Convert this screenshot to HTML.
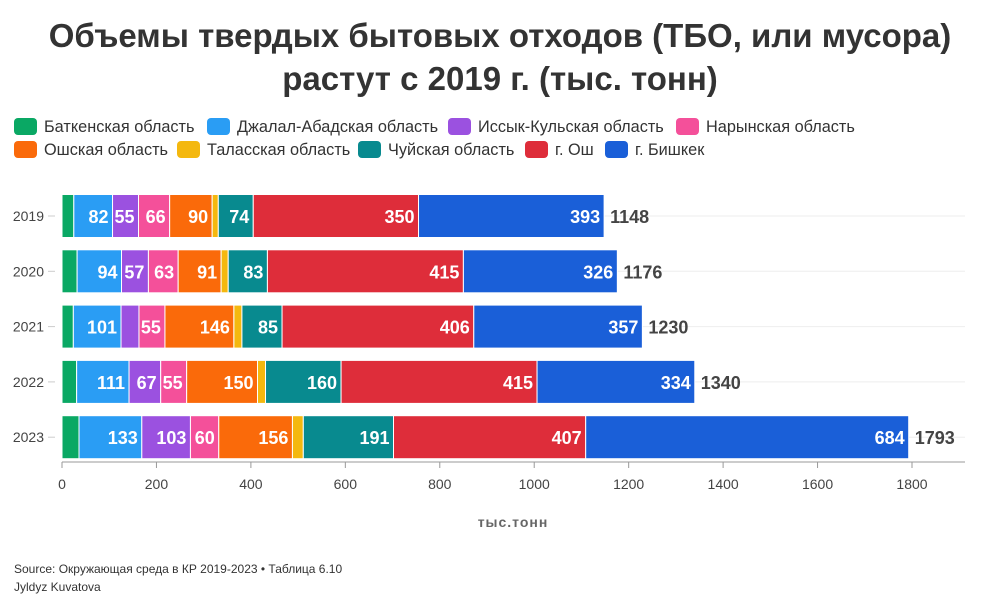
<!DOCTYPE html>
<html><head><meta charset="utf-8"><style>
body{margin:0;background:#fff;font-family:"Liberation Sans",sans-serif;}
#c{position:relative;width:1000px;height:607px;overflow:hidden}
h1{position:absolute;left:0;top:14px;width:1000px;margin:0;text-align:center;font-size:33px;line-height:43px;font-weight:bold;color:#333}
.leg{position:absolute;font-size:16.3px;color:#333;white-space:nowrap}
.leg span.sw{display:inline-block;width:23px;height:17px;border-radius:4px;vertical-align:-3px;margin-right:7px}
.foot{position:absolute;left:14px;font-size:12px;color:#333}
</style></head><body><div id="c">
<h1>Объемы твердых бытовых отходов (ТБО, или мусора)<br>растут с 2019 г. (тыс. тонн)</h1>
<div id="legend"></div>
<svg id="s" width="1000" height="607" style="position:absolute;left:0;top:0"></svg>
<div class="foot" style="top:562px">Source: Окружающая среда в КР 2019-2023 • Таблица 6.10</div>
<div class="foot" style="top:580px">Jyldyz Kuvatova</div>
</div>
<script>
const years=["2019","2020","2021","2022","2023"];
const seriesNames=["Баткенская область","Джалал-Абадская область","Иссык-Кульская область","Нарынская область","Ошская область","Таласская область","Чуйская область","г. Ош","г. Бишкек"];
const batken=[25,32,24,31,36];
const jalal=[82,94,101,111,133];
const issyk=[55,57,38,67,103];
const naryn=[66,63,55,55,60];
const osh=[90,91,146,150,156];
const talas=[13,15,17,17,23];
const chui=[74,83,85,160,191];
const oshCity=[350,415,406,415,407];
const bishkek=[393,326,357,334,684];
const totals=[1148,1176,1230,1340,1793];
const xTicks=[0,200,400,600,800,1000,1200,1400,1600,1800];
const series=[batken,jalal,issyk,naryn,osh,talas,chui,oshCity,bishkek];
const colors=["#0aa864","#2a9df4","#9b51e0","#f4509a","#fa6a0a","#f4b80f","#088a8f","#de2d3a","#1a5fd8"];
const labelMin=[999,60,50,50,60,999,60,60,60];
const x=v=>62+v*850/1800;
const y=i=>216+i*55.3;
const NS="http://www.w3.org/2000/svg";
const svg=document.getElementById('s');
function mk(t,a){const e=document.createElementNS(NS,t);for(const k in a)e.setAttribute(k,a[k]);svg.appendChild(e);return e;}
const lg=document.getElementById('legend');
const lpos=[[14,118],[207,118],[448,118],[676,118],[14,141],[177,141],[358,141],[525,141],[605,141]];
seriesNames.forEach((n,k)=>{const d=document.createElement('div');d.className='leg';d.style.left=lpos[k][0]+'px';d.style.top=lpos[k][1]+'px';d.innerHTML='<span class="sw" style="background:'+colors[k]+'"></span>'+n;


lg.appendChild(d);});
years.forEach((yr,i)=>{
 const g=mk('line',{x1:x(0),x2:965,y1:y(i),y2:y(i),stroke:'#eee','stroke-width':1});
 
 
 const t=mk('text',{x:44,y:y(i)+5,'text-anchor':'end','font-size':14,fill:'#444'});t.textContent=yr;
 
 
 mk('line',{x1:48,x2:55,y1:y(i),y2:y(i),stroke:'#ccc'});
 let acc=0;
 series.forEach((s,k)=>{
  const v=s[i];
  const r=mk('rect',{x:x(acc),y:y(i)-21.5,width:x(acc+v)-x(acc),height:43,fill:colors[k],stroke:'#fff','stroke-width':1});
  
  
  if(v>=labelMin[k]){
   const tl=mk('text',{x:x(acc+v)-4,y:y(i)+7,'text-anchor':'end','font-size':18,'font-weight':'bold',fill:'#fff'});tl.textContent=v;
   
   
  }
  acc+=v;
 });
 const tt=mk('text',{x:x(acc)+6,y:y(i)+7,'font-size':18,'font-weight':'bold',fill:'#444'});tt.textContent=totals[i];
 
 
});
const ax=mk('line',{x1:x(0),x2:965,y1:462,y2:462,stroke:'#999'});


xTicks.forEach(v=>{
 mk('line',{x1:x(v),x2:x(v),y1:462,y2:468,stroke:'#999'});
 const t=mk('text',{x:x(v),y:489,'text-anchor':'middle','font-size':14,fill:'#444'});t.textContent=v;
 
 
});
const xt=mk('text',{x:513,y:527,'text-anchor':'middle','font-size':14,'font-weight':'bold',fill:'#666','letter-spacing':'1'});xt.textContent='тыс.тонн';


</script></body></html>
